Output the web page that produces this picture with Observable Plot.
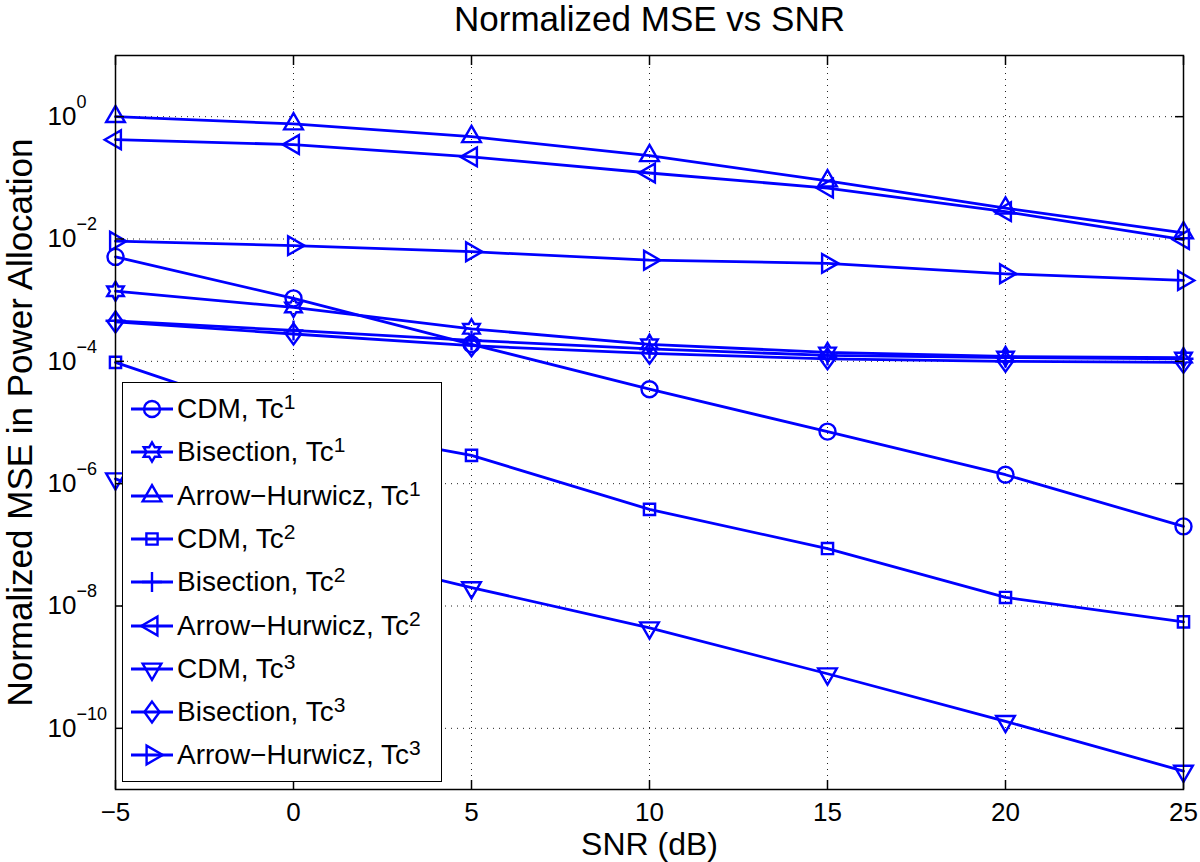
<!DOCTYPE html>
<html><head><meta charset="utf-8">
<script src="https://cdn.jsdelivr.net/npm/d3@7"></script>
<script src="https://cdn.jsdelivr.net/npm/@observablehq/plot@0.6"></script>
<style>
body{margin:0;background:#fff;}
#wrap{position:relative;width:1200px;height:862px;font-family:"Liberation Sans",Arial,Helvetica,sans-serif;}
#legend{position:absolute;left:122px;top:382px;width:320px;height:400px;box-sizing:border-box;border:1.5px solid #000;background:#fff;}
.row{position:absolute;left:0;height:30px;width:318px;}
.row svg{position:absolute;left:7px;top:0;}
.row .lab{position:absolute;left:54px;top:0;font-size:28px;line-height:30px;color:#000;white-space:nowrap;}
.row .lab sup{font-size:21px;position:relative;top:-9px;vertical-align:baseline;}
</style></head><body><div id="wrap"></div>
<script>
// ---- data ----
const snr = [-5, 0, 5, 10, 15, 20, 25];
const cdmTc1 = [5.1e-3, 1.07e-3, 1.9e-4, 3.5e-5, 7.1e-6, 1.4e-6, 2.0e-7];
const bisTc1 = [1.4e-3, 7.6e-4, 3.4e-4, 1.9e-4, 1.4e-4, 1.2e-4, 1.15e-4];
const ahTc1  = [1.0, 0.76, 0.47, 0.23, 0.089, 0.032, 0.0126];
const cdmTc2 = [9.6e-5, 1.0e-5, 2.9e-6, 3.8e-7, 8.7e-8, 1.38e-8, 5.5e-9];
const bisTc2 = [4.6e-4, 3.2e-4, 2.2e-4, 1.6e-4, 1.25e-4, 1.15e-4, 1.1e-4];
const ahTc2  = [0.42, 0.35, 0.22, 0.12, 0.068, 0.028, 0.0098];
const cdmTc3 = [1.2e-6, 1.0e-7, 2.0e-8, 4.4e-9, 7.8e-10, 1.3e-10, 2.0e-11];
const bisTc3 = [4.4e-4, 2.8e-4, 1.8e-4, 1.35e-4, 1.1e-4, 1.0e-4, 9.6e-5];
const ahTc3  = [9.2e-3, 7.8e-3, 6.2e-3, 4.5e-3, 4.0e-3, 2.7e-3, 2.1e-3];

const methods = ["CDM", "Bisection", "Arrow\u2212Hurwicz", "CDM", "Bisection", "Arrow\u2212Hurwicz", "CDM", "Bisection", "Arrow\u2212Hurwicz"];
const tcIndex = [1, 1, 1, 2, 2, 2, 3, 3, 3];
const seriesValues = [cdmTc1, bisTc1, ahTc1, cdmTc2, bisTc2, ahTc2, cdmTc3, bisTc3, ahTc3];
const markerNames = ["circle", "hexagram", "triUp", "square", "plus", "triLeft", "triDown", "diamond", "triRight"];

const xTicks = [-5, 0, 5, 10, 15, 20, 25];
const yTicks = [1, 1e-2, 1e-4, 1e-6, 1e-8, 1e-10];
const titleText = "Normalized MSE vs SNR";
const xLabel = "SNR (dB)";
const yLabel = "Normalized MSE in Power Allocation";

// ---- MATLAB-like marker symbols ----
const R = s => Math.sqrt(s / Math.PI);
function tri(ctx, a, rot) {
  const pts = [[0, -a], [0.866 * a, a / 2], [-0.866 * a, a / 2]].map(([x, y]) => {
    const c = Math.cos(rot), s = Math.sin(rot);
    return [x * c - y * s, x * s + y * c];
  });
  ctx.moveTo(pts[0][0], pts[0][1]); ctx.lineTo(pts[1][0], pts[1][1]); ctx.lineTo(pts[2][0], pts[2][1]); ctx.closePath();
}
const symbols = {
  circle: {draw(ctx, s) { const r = R(s); ctx.moveTo(r, 0); ctx.arc(0, 0, r, 0, 2 * Math.PI); }},
  triUp: {draw(ctx, s) { tri(ctx, R(s) * 1.35, 0); }},
  triDown: {draw(ctx, s) { tri(ctx, R(s) * 1.35, Math.PI); }},
  triLeft: {draw(ctx, s) { tri(ctx, R(s) * 1.35, -Math.PI / 2); }},
  triRight: {draw(ctx, s) { tri(ctx, R(s) * 1.35, Math.PI / 2); }},
  square: {draw(ctx, s) { const h = R(s) * 0.7; ctx.moveTo(-h, -h); ctx.lineTo(h, -h); ctx.lineTo(h, h); ctx.lineTo(-h, h); ctx.closePath(); }},
  diamond: {draw(ctx, s) { const r = R(s), h = r * 1.3, w = r * 0.95; ctx.moveTo(0, -h); ctx.lineTo(w, 0); ctx.lineTo(0, h); ctx.lineTo(-w, 0); ctx.closePath(); }},
  plus: {draw(ctx, s) { const l = R(s) * 1.25; ctx.moveTo(-l, 0); ctx.lineTo(l, 0); ctx.moveTo(0, -l); ctx.lineTo(0, l); }},
  hexagram: {draw(ctx, s) {
    const a = R(s) * 1.2;
    for (let k = 0; k < 12; k++) {
      const ang = -Math.PI / 2 + k * Math.PI / 6, rr = k % 2 === 0 ? a : a * 0.577;
      const x = rr * Math.cos(ang), y = rr * Math.sin(ang);
      if (k === 0) ctx.moveTo(x, y); else ctx.lineTo(x, y);
    }
    ctx.closePath();
  }}
};

const BLUE = "#0000ff";
const DOT_R = 8;

const rows = [];
seriesValues.forEach((vals, k) => vals.forEach((v, i) => rows.push({snr: snr[i], mse: v, series: k})));

const marks = [
  Plot.gridX({ticks: xTicks, stroke: "#222", strokeOpacity: 1, strokeWidth: 1, strokeDasharray: "1,5"}),
  Plot.gridY({ticks: yTicks, stroke: "#222", strokeOpacity: 1, strokeWidth: 1, strokeDasharray: "1,5"}),
  Plot.line(rows, {x: "snr", y: "mse", z: "series", stroke: BLUE, strokeWidth: 2.8}),
  ...seriesValues.map((vals, k) => Plot.dot(rows.filter(d => d.series === k), {
    x: "snr", y: "mse", symbol: symbols[markerNames[k]], r: DOT_R, stroke: BLUE, strokeWidth: 2.4, fill: "none"
  })),
  Plot.frame({stroke: "#000", strokeWidth: 1.5}),
  Plot.axisX({anchor: "bottom", ticks: xTicks, tickSize: -9, tickPadding: 22, strokeWidth: 1.5, fontSize: 26, label: null,
    tickFormat: d => (d < 0 ? "\u2212" + (-d) : String(d))}),
  Plot.axisX({anchor: "top", ticks: xTicks, tickSize: -9, strokeWidth: 1.5, fill: "none", label: null}),
  Plot.axisY({anchor: "left", ticks: yTicks, tickSize: -9, tickPadding: 77, strokeWidth: 1.5, fontSize: 26, label: null,
    textAnchor: "start", tickFormat: d => { const e = Math.round(Math.log10(d)); return e < 0 ? "\u2212" + (-e) : String(e); }}),
  Plot.axisY({anchor: "right", ticks: yTicks, tickSize: -9, strokeWidth: 1.5, fill: "none", label: null}),
  Plot.text([titleText], {frameAnchor: "top", textAnchor: "middle", dy: -36, lineAnchor: "middle", fontSize: 35, fill: "#000"}),
  Plot.text([xLabel], {frameAnchor: "bottom", textAnchor: "middle", dy: 55, lineAnchor: "middle", fontSize: 32, fill: "#000"}),
  Plot.text([yLabel], {frameAnchor: "left", textAnchor: "middle", rotate: -90, dx: -95, lineAnchor: "middle", fontSize: 35, fill: "#000"})
];

const svg = Plot.plot({
  width: 1200, height: 862,
  marginLeft: 115, marginRight: 17, marginTop: 55, marginBottom: 73,
  x: {domain: [-5, 25]},
  y: {type: "log", domain: [1e-11, 10]},
  style: {fontFamily: "'Liberation Sans', Arial, Helvetica, sans-serif", background: "#fff", color: "#000", overflow: "visible"},
  marks
});

// superscript exponents on y tick labels
d3.select(svg).selectAll('g[aria-label="y-axis tick label"] text').each(function () {
  const e = this.textContent;
  this.textContent = "";
  const t = d3.select(this);
  t.append("tspan").text("10");
  t.append("tspan").attr("dy", -17).attr("font-size", 18).text(e);
});

const wrap = document.getElementById("wrap");
wrap.appendChild(svg);

// legend (inside the axes, lower left)
const legend = d3.select(wrap).append("div").attr("id", "legend");
methods.forEach((m, k) => {
  const row = legend.append("div").attr("class", "row").style("top", (11 + k * 43.3) + "px");
  const s = row.append("svg").attr("width", 44).attr("height", 30);
  s.append("line").attr("x1", 1).attr("x2", 43).attr("y1", 15).attr("y2", 15).attr("stroke", BLUE).attr("stroke-width", 2.8);
  const p = d3.path();
  symbols[markerNames[k]].draw(p, DOT_R * DOT_R * Math.PI);
  s.append("path").attr("d", p.toString()).attr("transform", "translate(22,15)").attr("fill", "none").attr("stroke", BLUE).attr("stroke-width", 2.4);
  const lab = row.append("div").attr("class", "lab");
  lab.append("span").text(m + ", Tc");
  lab.append("sup").text(tcIndex[k]);
});
</script></body></html>
